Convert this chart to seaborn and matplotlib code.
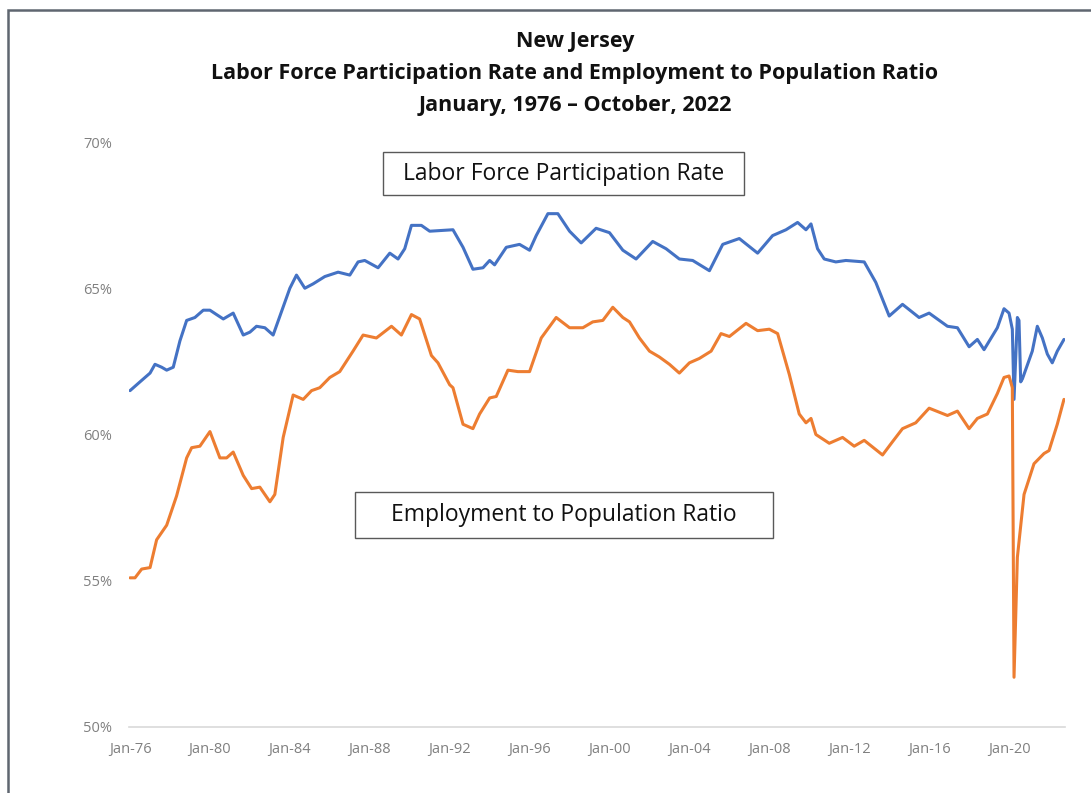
import matplotlib
matplotlib.use("Agg")
import matplotlib.pyplot as plt
from matplotlib.patches import Rectangle
import seaborn as sns
import pandas as pd

# ---------------- data ----------------
lfpr_dates = ["1976-01", "1976-07", "1977-01", "1977-04", "1977-08", "1977-11", "1978-03", "1978-07",
              "1978-11", "1979-04", "1979-09", "1980-01", "1980-05", "1980-09", "1981-03", "1981-09",
              "1982-01", "1982-05", "1982-10", "1983-03", "1983-08", "1984-01", "1984-05", "1984-10",
              "1985-03", "1985-10", "1986-06", "1987-01", "1987-06", "1987-10", "1988-06", "1989-01",
              "1989-06", "1989-10", "1990-02", "1990-08", "1991-01", "1992-03", "1992-09", "1993-03",
              "1993-09", "1994-01", "1994-04", "1994-11", "1995-07", "1996-01", "1996-05", "1996-12",
              "1997-06", "1998-01", "1998-08", "1999-05", "2000-01", "2000-09", "2001-05", "2002-03",
              "2002-11", "2003-07", "2004-03", "2005-01", "2005-09", "2006-07", "2007-06", "2008-03",
              "2008-11", "2009-06", "2009-11", "2010-02", "2010-06", "2010-10", "2011-05", "2011-11",
              "2012-10", "2013-05", "2014-01", "2014-09", "2015-07", "2016-01", "2016-12", "2017-06",
              "2018-01", "2018-06", "2018-10", "2019-06", "2019-10", "2020-01", "2020-03", "2020-04",
              "2020-06", "2020-07", "2020-08", "2020-09", "2021-03", "2021-06", "2021-09", "2021-12",
              "2022-03", "2022-06", "2022-10"]
lfpr_values = [61.5, 61.8, 62.1, 62.4, 62.3, 62.2, 62.3, 63.2,
               63.9, 64.0, 64.25, 64.25, 64.1, 63.95, 64.15, 63.4,
               63.5, 63.7, 63.65, 63.4, 64.2, 65.0, 65.45, 65.0,
               65.15, 65.4, 65.55, 65.45, 65.9, 65.95, 65.7, 66.2,
               66.0, 66.35, 67.15, 67.15, 66.95, 67.0, 66.4, 65.65,
               65.7, 65.95, 65.8, 66.4, 66.5, 66.3, 66.8, 67.55,
               67.55, 66.95, 66.55, 67.05, 66.9, 66.3, 66.0, 66.6,
               66.35, 66.0, 65.95, 65.6, 66.5, 66.7, 66.2, 66.8,
               67.0, 67.25, 67.0, 67.2, 66.35, 66.0, 65.9, 65.95,
               65.9, 65.2, 64.05, 64.45, 64.0, 64.15, 63.7, 63.65,
               63.0, 63.25, 62.9, 63.65, 64.3, 64.15, 63.6, 61.2,
               64.0, 63.9, 61.8, 61.9, 62.85, 63.7, 63.3, 62.75,
               62.45, 62.85, 63.25]

epop_dates = ["1976-01", "1976-04", "1976-08", "1977-01", "1977-05", "1977-11", "1978-05", "1978-11",
              "1979-02", "1979-07", "1980-01", "1980-07", "1980-11", "1981-03", "1981-09", "1982-02",
              "1982-07", "1983-01", "1983-04", "1983-09", "1984-03", "1984-09", "1985-02", "1985-07",
              "1986-01", "1986-07", "1987-03", "1987-09", "1988-05", "1989-02", "1989-08", "1990-02",
              "1990-07", "1991-02", "1991-06", "1992-01", "1992-03", "1992-09", "1993-03", "1993-07",
              "1994-01", "1994-05", "1994-12", "1995-06", "1996-01", "1996-08", "1997-05", "1998-01",
              "1998-09", "1999-03", "1999-09", "2000-03", "2000-09", "2001-01", "2001-07", "2002-01",
              "2002-07", "2003-01", "2003-07", "2004-01", "2004-07", "2005-02", "2005-08", "2006-01",
              "2006-11", "2007-06", "2008-01", "2008-06", "2009-01", "2009-07", "2009-11", "2010-02",
              "2010-05", "2011-01", "2011-09", "2012-04", "2012-10", "2013-09", "2014-03", "2014-09",
              "2015-05", "2016-01", "2016-12", "2017-06", "2018-01", "2018-06", "2018-12", "2019-06",
              "2019-10", "2020-01", "2020-03", "2020-04", "2020-06", "2020-10", "2021-04", "2021-10",
              "2022-01", "2022-06", "2022-10"]
epop_values = [55.1, 55.1, 55.4, 55.45, 56.4, 56.9, 57.9, 59.2,
               59.55, 59.6, 60.1, 59.2, 59.2, 59.4, 58.6, 58.15,
               58.2, 57.7, 57.95, 59.9, 61.35, 61.2, 61.5, 61.6,
               61.95, 62.15, 62.85, 63.4, 63.3, 63.7, 63.4, 64.1,
               63.95, 62.7, 62.45, 61.7, 61.6, 60.35, 60.2, 60.7,
               61.25, 61.3, 62.2, 62.15, 62.15, 63.3, 64.0, 63.65,
               63.65, 63.85, 63.9, 64.35, 64.0, 63.85, 63.3, 62.85,
               62.65, 62.4, 62.1, 62.45, 62.6, 62.85, 63.45, 63.35,
               63.8, 63.55, 63.6, 63.45, 62.05, 60.7, 60.4, 60.55,
               60.0, 59.7, 59.9, 59.6, 59.8, 59.3, 59.75, 60.2,
               60.4, 60.9, 60.65, 60.8, 60.2, 60.55, 60.7, 61.4,
               61.95, 62.0, 61.6, 51.7, 55.8, 57.95, 59.0, 59.35,
               59.45, 60.35, 61.2]

series_names = ["Labor Force Participation Rate", "Employment to Population Ratio"]
tick_years = list(range(1976, 2021, 4))
tick_labels = ["Jan-%02d" % (y % 100) for y in tick_years]
y_ticks = [50, 55, 60, 65, 70]
y_tick_labels = ["50%", "55%", "60%", "65%", "70%"]
title_lines = ["New Jersey",
               "Labor Force Participation Rate and Employment to Population Ratio",
               "January, 1976 \u2013 October, 2022"]

# ---------------- figure ----------------
sns.set_theme(style="white")
plt.rcParams["font.family"] = ["Open Sans", "DejaVu Sans"]

W, H = 1091, 793
fig = plt.figure(figsize=(W / 100, H / 100), dpi=100)
fig.patch.set_facecolor("white")


def fx(px):
    return px / W


def fy(py):
    return 1 - py / H


ax = fig.add_axes([fx(129), fy(727), fx(1065) - fx(129), fy(142) - fy(727)])

df_l = pd.DataFrame({"date": pd.to_datetime(lfpr_dates), "value": lfpr_values})
df_e = pd.DataFrame({"date": pd.to_datetime(epop_dates), "value": epop_values})

sns.lineplot(data=df_l, x="date", y="value", ax=ax, color="#4472C4", linewidth=2.2)
sns.lineplot(data=df_e, x="date", y="value", ax=ax, color="#ED7D31", linewidth=2.2)

ax.set_ylim(50, 70)
ax.set_xlim(pd.Timestamp("1975-12-13"), pd.Timestamp("2022-10-20"))
ax.set_yticks(y_ticks)
ax.set_yticklabels(y_tick_labels)
ax.set_xticks([pd.Timestamp("%d-01-01" % y) for y in tick_years])
ax.set_xticklabels(tick_labels)
ax.set_xlabel("")
ax.set_ylabel("")
ax.tick_params(axis="both", length=0, colors="#808080", labelsize=10.5)
ax.tick_params(axis="y", pad=12)
ax.tick_params(axis="x", pad=11)
for s in ["top", "right", "left"]:
    ax.spines[s].set_visible(False)
ax.spines["bottom"].set_color("#d9d9d9")
ax.spines["bottom"].set_linewidth(1.2)
ax.grid(False)

# title
for i, line in enumerate(title_lines):
    fig.text(fx(575), fy(42 + i * 32), line, ha="center", va="center",
             fontsize=15.5, fontweight="bold", color="#111111")

# annotation boxes
boxes = [(383, 152, 744, 195, series_names[0]),
         (355, 492, 773, 538, series_names[1])]
for x0, y0, x1, y1, label in boxes:
    fig.patches.append(Rectangle((fx(x0), fy(y1)), fx(x1) - fx(x0), fy(y0) - fy(y1),
                                 transform=fig.transFigure, fill=True, facecolor="white",
                                 edgecolor="#595959", linewidth=1.0, zorder=5))
    fig.text(fx((x0 + x1) / 2), fy((y0 + y1) / 2), label, ha="center", va="center",
             fontsize=16.5, color="#111111", zorder=6)

# outer frame (top and left edges visible)
fig.patches.append(Rectangle((fx(8), fy(H + 20)), fx(W + 20) - fx(8), fy(10) - fy(H + 20),
                             transform=fig.transFigure, fill=False,
                             edgecolor="#5f6670", linewidth=1.8, zorder=10))

fig.savefig("out.png", dpi=100, facecolor="white")
